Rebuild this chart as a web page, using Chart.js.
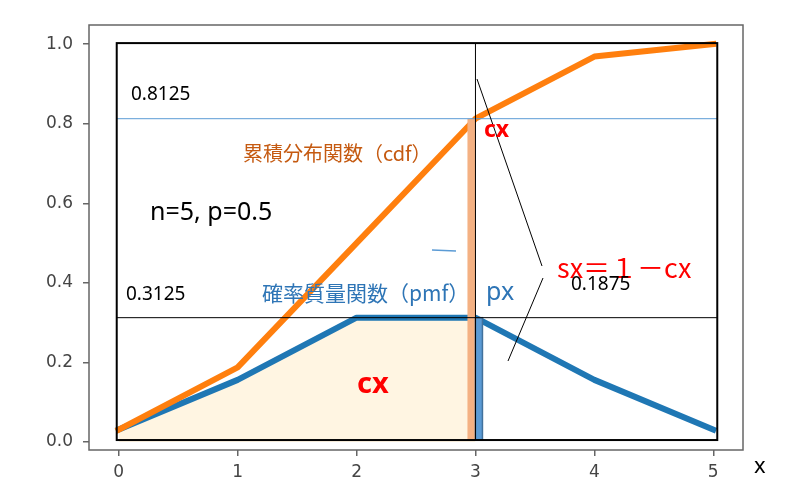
<!DOCTYPE html>
<html>
<head>
    <title>二項分布 n=5, p=0.5</title>
    <script src="https://cdn.jsdelivr.net/npm/chart.js"></script>
    <style>
        body { margin: 0; background: #fff; }
    </style>
</head>
<body>
    <canvas id="grafico" width="785" height="503"></canvas>

    <script>
        // datos: distribución binomial n=5, p=0.5
        var valoresX = [0, 1, 2, 3, 4, 5];
        var pmf = [0.03125, 0.15625, 0.3125, 0.3125, 0.15625, 0.03125];
        var cdf = [0.03125, 0.1875, 0.5, 0.8125, 0.96875, 1.0];
        var ticksX = [0, 1, 2, 3, 4, 5];
        var ticksY = [0.0, 0.2, 0.4, 0.6, 0.8, 1.0];
        var xMarcado = 3;       // el punto x marcado con las barras

        function puntos(xs, ys) {
            return xs.map(function (x, i) { return { x: x, y: ys[i] }; });
        }

        var corte = valoresX.indexOf(xMarcado) + 1;

        // dibujos extra encima de las lineas (barras, textos, recuadro)
        var anotaciones = {
            id: 'anotaciones',
            afterDatasetsDraw: function (chart) {
                var ctx = chart.ctx;
                var sx = chart.scales.x, sy = chart.scales.y;
                var x3 = sx.getPixelForValue(xMarcado);
                var izq = sx.getPixelForValue(0) - 2;
                var der = sx.getPixelForValue(5) + 4;
                var arriba = sy.getPixelForValue(1) - 1;
                var abajo = sy.getPixelForValue(0) - 2;
                var yc = sy.getPixelForValue(cdf[corte - 1]);
                var yp = sy.getPixelForValue(pmf[corte - 1]);

                ctx.save();
                // barra naranja (cx) y barra azul (px)
                ctx.fillStyle = '#f4b183';
                ctx.fillRect(x3 - 8, yc, 8, abajo - yc);
                ctx.fillStyle = '#5b9bd5';
                ctx.fillRect(x3, yp, 7, abajo - yp);
                ctx.strokeStyle = '#41719c';
                ctx.lineWidth = 1.5;
                ctx.strokeRect(x3, yp, 7, abajo - yp);

                // lineas finas
                ctx.lineWidth = 1;
                ctx.strokeStyle = '#5b9bd5';
                ctx.beginPath(); ctx.moveTo(izq, yc); ctx.lineTo(der, yc); ctx.stroke();
                ctx.strokeStyle = '#000';
                ctx.beginPath(); ctx.moveTo(izq, yp); ctx.lineTo(der, yp); ctx.stroke();
                ctx.beginPath(); ctx.moveTo(x3, arriba); ctx.lineTo(x3, abajo); ctx.stroke();

                // lineas de la llamada sx
                ctx.beginPath(); ctx.moveTo(477, 79); ctx.lineTo(542, 266); ctx.stroke();
                ctx.beginPath(); ctx.moveTo(543, 278); ctx.lineTo(508, 361); ctx.stroke();
                ctx.strokeStyle = '#5b9bd5';
                ctx.lineWidth = 1.5;
                ctx.beginPath(); ctx.moveTo(432, 250); ctx.lineTo(456, 251); ctx.stroke();

                // recuadro negro
                ctx.strokeStyle = '#000';
                ctx.lineWidth = 2;
                ctx.strokeRect(izq, arriba, der - izq, abajo - arriba);

                // textos
                ctx.textBaseline = 'middle';
                ctx.textAlign = 'left';
                var textos = [
                    ['0.8125', 131, 95, '19px "Noto Sans"', '#000'],
                    ['累積分布関数（cdf）', 243, 153, '20px "Noto Sans CJK JP"', '#c55a11'],
                    ['n=5, p=0.5', 150, 213, '25px "Noto Sans"', '#000'],
                    ['cx', 484, 130, 'bold 23px "Noto Sans"', '#ff0000'],
                    ['確率質量関数（pmf）', 262, 293, '21px "Noto Sans CJK JP"', '#2e75b6'],
                    ['px', 486, 293, '25px "Noto Sans"', '#2e75b6'],
                    ['sx＝１－cx', 557, 268, '27px "Noto Sans CJK JP"', '#ff0000'],
                    ['0.1875', 571, 285, '19px "Noto Sans"', '#000'],
                    ['0.3125', 126, 295, '19px "Noto Sans"', '#000'],
                    ['cx', 357, 385, 'bold 29px "Noto Sans"', '#ff0000']
                ];
                textos.forEach(function (t) {
                    ctx.font = t[3];
                    ctx.fillStyle = t[4];
                    ctx.fillText(t[0], t[1], t[2]);
                });
                ctx.restore();
            },
            afterDraw: function (chart) {
                var ctx = chart.ctx;
                var a = chart.chartArea;
                ctx.save();
                // marco de los ejes
                ctx.strokeStyle = '#666';
                ctx.lineWidth = 1.5;
                ctx.strokeRect(a.left, a.top, a.right - a.left, a.bottom - a.top);
                // etiqueta del eje x
                ctx.font = '22px "Noto Sans"';
                ctx.fillStyle = '#000';
                ctx.textBaseline = 'middle';
                ctx.fillText('x', 754, 467);
                ctx.restore();
            }
        };

        var ctx = document.getElementById('grafico').getContext('2d');

        var grafico = new Chart(ctx, {
            type: 'line',
            data: {
                datasets: [{
                    label: 'cdf',
                    data: puntos(valoresX, cdf),
                    borderColor: '#ff7f0e',
                    borderWidth: 6,
                    borderCapStyle: 'square',
                    borderJoinStyle: 'round',
                    pointRadius: 0,
                    tension: 0,
                    fill: false
                }, {
                    label: 'pmf',
                    data: puntos(valoresX, pmf),
                    borderColor: '#1f77b4',
                    borderWidth: 6,
                    borderCapStyle: 'square',
                    borderJoinStyle: 'round',
                    pointRadius: 0,
                    tension: 0,
                    fill: false
                }, {
                    label: 'area cx',
                    data: puntos(valoresX.slice(0, corte), pmf.slice(0, corte)),
                    borderWidth: 0,
                    borderColor: 'rgba(0,0,0,0)',
                    backgroundColor: '#fff5e2',
                    pointRadius: 0,
                    tension: 0,
                    fill: 'origin'
                }]
            },
            options: {
                responsive: false,
                animation: false,
                layout: { padding: { top: 25, right: 42, left: 0, bottom: 0 } },
                plugins: {
                    legend: { display: false },
                    tooltip: { enabled: false }
                },
                scales: {
                    x: {
                        type: 'linear',
                        min: -0.25,
                        max: 5.25,
                        afterFit: function (scale) { scale.height = 53; },
                        afterBuildTicks: function (scale) {
                            scale.ticks = ticksX.map(function (v) { return { value: v }; });
                        },
                        ticks: {
                            color: '#444',
                            font: { family: 'DejaVu Sans', size: 17 },
                            padding: 6,
                            maxRotation: 0,
                            callback: function (v) { return String(v); }
                        },
                        grid: { drawOnChartArea: false, drawTicks: true, tickLength: 6, color: '#666', lineWidth: 1.5 },
                        border: { display: false }
                    },
                    y: {
                        type: 'linear',
                        min: -0.02,
                        max: 1.048,
                        afterFit: function (scale) { scale.width = 89; },
                        afterBuildTicks: function (scale) {
                            scale.ticks = ticksY.map(function (v) { return { value: v }; });
                        },
                        ticks: {
                            color: '#444',
                            font: { family: 'DejaVu Sans', size: 17 },
                            padding: 10,
                            callback: function (v) { return v.toFixed(1); }
                        },
                        grid: { drawOnChartArea: false, drawTicks: true, tickLength: 6, color: '#666', lineWidth: 1.5 },
                        border: { display: false }
                    }
                }
            },
            plugins: [anotaciones]
        });
    </script>
</body>
</html>
